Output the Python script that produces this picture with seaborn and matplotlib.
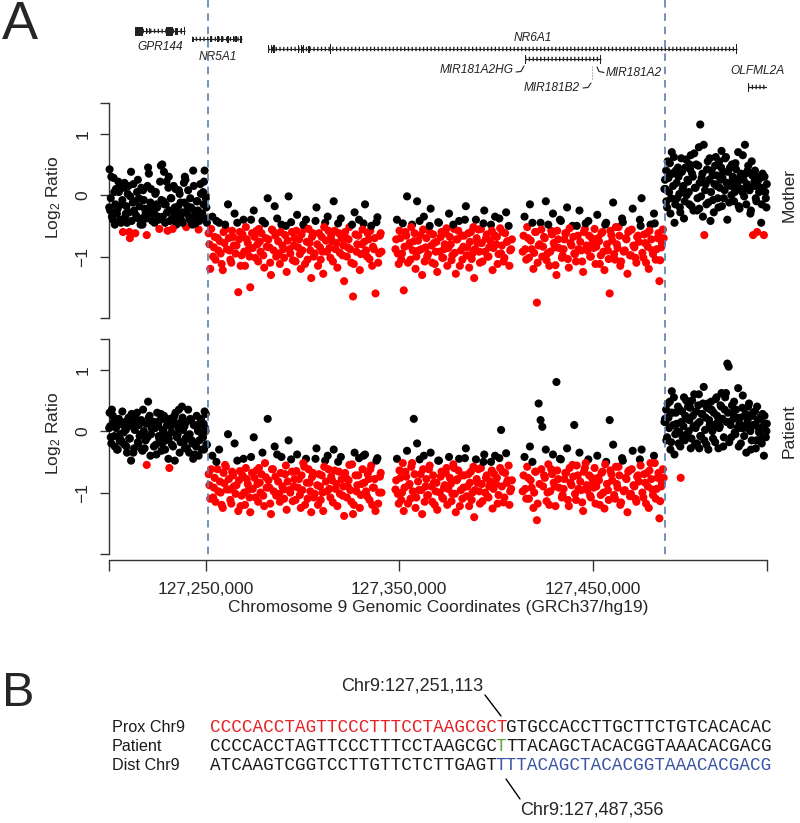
import matplotlib
matplotlib.use("Agg")
import matplotlib.pyplot as plt
import matplotlib.transforms as mtrans
from matplotlib.lines import Line2D
from matplotlib.patches import Rectangle
import seaborn as sns
import pandas as pd

# ---------------- data ----------------
WINDOW_START_BP = 127200000          # left end of the plotted window
WINDOW_END_KB = 340                  # window width in kb

# probe positions (kb from window start), shared by both arrays
LEFT_POS = [0.3, 0.9, 1.5, 2.4, 3.0, 3.6, 4.5, 5.1, 5.8, 6.6,
            7.2, 8.0, 8.7, 9.3, 10.1, 10.8, 11.4, 12.3, 13.0, 13.6,
            14.5, 15.2, 15.8, 16.7, 17.3, 18.0, 18.9, 19.5, 20.2, 21.0,
            21.7, 22.3, 23.2, 23.9, 24.5, 25.4, 26.0, 26.8, 27.5, 28.1,
            29.0, 29.7, 30.3, 31.2, 31.9, 32.5, 33.4, 34.0, 34.8, 35.5,
            36.1, 37.0, 37.7, 38.3, 39.2, 39.9, 40.5, 41.4, 42.0, 42.8,
            43.5, 44.1, 45.0, 45.7, 46.3, 47.2, 47.9, 48.6, 49.4, 50.3,
            0.6, 5.5, 11.0, 17.0, 22.8, 28.6, 33.8, 39.5, 44.7, 49.9]
LEFT2_POS = [0.1, 1.2, 2.0, 2.7, 3.3, 4.1, 4.8, 6.2, 6.9, 7.6,
             8.4, 9.0, 9.7, 10.4, 11.7, 12.6, 13.3, 14.0, 14.9, 15.5,
             16.3, 17.6, 18.4, 19.2, 19.9, 20.6, 21.4, 22.0, 23.5, 24.2,
             24.9, 25.7, 26.4, 27.1, 27.8, 28.4, 29.3, 30.0, 30.7, 31.5,
             32.2, 32.9, 33.1, 34.4, 35.1, 35.8, 36.5, 37.3, 38.0, 38.7,
             39.0, 40.2, 40.9, 41.7, 42.4, 43.1, 43.8, 44.4, 45.3, 46.0,
             46.7, 47.5, 48.2, 48.9, 49.1, 49.7, 50.0, 50.6, 10.5, 30.9]
DEL1_POS = [51.5, 52.3, 53.4, 54.2, 55.0, 56.1, 56.9, 57.7, 58.8, 59.6,
            60.4, 61.5, 62.3, 63.2, 64.1, 64.9, 65.9, 66.8, 67.6, 68.5,
            69.5, 70.3, 71.2, 72.2, 73.0, 73.9, 74.8, 75.7, 76.7, 77.5,
            78.3, 79.3, 80.2, 81.0, 82.0, 82.9, 83.7, 84.7, 85.6, 86.4,
            87.4, 88.3, 89.1, 90.1, 91.0, 91.8, 92.8, 93.7, 94.5, 95.5,
            96.4, 97.2, 98.2, 99.1, 99.9, 100.9, 101.8, 102.6, 103.6, 104.5,
            105.3, 106.3, 107.2, 108.0, 109.0, 109.9, 110.7, 111.7, 112.6, 113.4,
            114.4, 115.3, 116.1, 117.1, 118.0, 118.8, 119.8, 120.7, 121.5, 122.5,
            123.4, 124.2, 125.2, 126.1, 126.9, 127.9, 128.8, 129.6, 130.6, 131.5,
            132.3, 133.3, 134.2, 135.0, 136.0, 136.9, 137.7, 138.7, 139.6, 140.4]
DEL1B_POS = [51.9, 52.8, 53.8, 54.6, 55.5, 56.5, 57.3, 58.2, 59.2, 60.0,
             60.9, 61.9, 62.7, 63.6, 64.5, 65.4, 66.3, 67.2, 68.0, 69.0,
             69.9, 70.7, 71.7, 72.6, 73.4, 74.3, 75.2, 76.2, 77.1, 77.9,
             78.8, 79.7, 80.6, 81.5, 82.4, 83.3, 84.2, 85.1, 86.0, 86.9,
             87.8, 88.7, 89.6, 90.5, 91.4, 92.3, 93.2, 94.1, 95.0, 95.9,
             96.8, 97.7, 98.6, 99.5, 100.4, 101.3, 102.2, 103.1, 104.0, 104.9,
             105.8, 106.7, 107.6, 108.5, 109.4, 110.3, 111.2, 112.1, 113.0, 113.9,
             114.8, 115.7, 116.6, 117.5, 118.4, 119.3, 120.2, 121.1, 122.0, 122.9,
             123.8, 124.7, 125.6, 126.5, 127.4, 128.3, 129.2, 130.1, 131.0, 131.9,
             132.8, 133.7, 134.6, 135.5, 136.4, 137.3, 138.2, 139.1, 140.0, 140.8]
DEL2_POS = [148.0, 148.8, 149.7, 150.6, 151.4, 152.3, 153.2, 154.0, 154.9, 155.8,
            156.6, 157.5, 158.4, 159.2, 160.1, 161.0, 161.8, 162.7, 163.6, 164.4,
            165.3, 166.2, 167.0, 167.9, 168.8, 169.6, 170.5, 171.4, 172.2, 173.1,
            174.0, 174.8, 175.7, 176.6, 177.4, 178.3, 179.2, 180.0, 180.9, 181.8,
            182.6, 183.5, 184.4, 185.2, 186.1, 187.0, 187.8, 188.7, 189.6, 190.4,
            191.3, 192.2, 193.0, 193.9, 194.8, 195.6, 196.5, 197.4, 198.2, 199.1,
            200.0, 200.8, 201.7, 202.6, 203.4, 204.3, 205.2, 206.0, 206.9, 207.8]
DEL2B_POS = [148.4, 149.2, 150.1, 151.0, 151.8, 152.7, 153.6, 154.5, 155.3, 156.2,
             157.0, 157.9, 158.8, 159.7, 160.5, 161.4, 162.3, 163.1, 164.0, 164.9,
             165.7, 166.6, 167.5, 168.3, 169.2, 170.1, 170.9, 171.8, 172.7, 173.5,
             174.4, 175.3, 176.1, 177.0, 177.9, 178.7, 179.6, 180.5, 181.3, 182.2,
             183.1, 183.9, 184.8, 185.7, 186.5, 187.4, 188.3, 189.1, 190.0, 190.9,
             191.7, 192.6, 193.5, 194.3, 195.2, 196.1, 196.9, 197.8, 198.7, 199.5,
             200.4, 201.3, 202.1, 203.0, 203.9, 204.7, 205.6, 206.5, 207.3, 208.2]
DEL3_POS = [213.8, 214.7, 215.6, 216.5, 217.5, 218.4, 219.3, 220.2, 221.1, 222.0,
            223.0, 223.9, 224.8, 225.7, 226.6, 227.5, 228.5, 229.4, 230.3, 231.2,
            232.1, 233.0, 234.0, 234.9, 235.8, 236.7, 237.6, 238.5, 239.5, 240.4,
            241.3, 242.2, 243.1, 244.0, 245.0, 245.9, 246.8, 247.7, 248.6, 249.5,
            250.5, 251.4, 252.3, 253.2, 254.1, 255.0, 256.0, 256.9, 257.8, 258.7,
            259.6, 260.5, 261.5, 262.4, 263.3, 264.2, 265.1, 266.0, 267.0, 267.9,
            268.8, 269.7, 270.6, 271.5, 272.5, 273.4, 274.3, 275.2, 276.1, 277.0,
            278.0, 278.9, 279.8, 280.7, 281.6, 282.5, 283.5, 284.4, 285.3, 286.2]
DEL3B_POS = [214.2, 215.1, 216.1, 217.0, 217.9, 218.8, 219.7, 220.6, 221.5, 222.5,
             223.4, 224.3, 225.2, 226.1, 227.0, 228.0, 228.9, 229.8, 230.7, 231.6,
             232.5, 233.5, 234.4, 235.3, 236.2, 237.1, 238.0, 239.0, 239.9, 240.8,
             241.7, 242.6, 243.5, 244.5, 245.4, 246.3, 247.2, 248.1, 249.0, 250.0,
             250.9, 251.8, 252.7, 253.6, 254.5, 255.5, 256.4, 257.3, 258.2, 259.1,
             260.0, 261.0, 261.9, 262.8, 263.7, 264.6, 265.5, 266.5, 267.4, 268.3,
             269.2, 270.1, 271.0, 272.0, 272.9, 273.8, 274.7, 275.6, 276.5, 277.5,
             278.4, 279.3, 280.2, 281.1, 282.0, 283.0, 283.9, 284.8, 285.7, 286.6]
RIGHT_POS = [287.3, 288.0, 288.7, 289.4, 290.1, 290.8, 291.5, 292.2, 292.9, 293.6,
             294.3, 295.0, 295.7, 296.4, 297.1, 297.8, 298.5, 299.2, 299.9, 300.6,
             301.3, 302.0, 302.7, 303.4, 304.1, 304.8, 305.5, 306.2, 306.9, 307.6,
             308.3, 309.0, 309.7, 310.4, 311.1, 311.8, 312.5, 313.2, 313.9, 314.6,
             315.3, 316.0, 316.7, 317.4, 318.1, 318.8, 319.5, 320.2, 320.9, 321.6,
             322.3, 323.0, 323.7, 324.4, 325.1, 325.8, 326.5, 327.2, 327.9, 328.6,
             329.3, 330.0, 330.7, 331.4, 332.1, 332.8, 333.5, 334.2, 334.9, 335.6,
             336.3, 337.0, 337.7, 338.4, 339.1, 339.7, 287.6, 295.4, 310.8, 324.8]
RIGHT2_POS = [287.0, 287.9, 288.4, 289.1, 289.8, 290.5, 291.2, 291.9, 292.6, 293.3,
              294.0, 294.7, 295.2, 296.1, 296.8, 297.5, 298.2, 298.9, 299.6, 300.3,
              301.0, 301.7, 302.4, 303.1, 303.8, 304.5, 305.2, 305.9, 306.6, 307.3,
              308.0, 308.7, 309.4, 310.1, 311.4, 312.1, 312.8, 313.5, 314.2, 314.9,
              315.6, 316.3, 317.0, 317.7, 318.4, 319.1, 319.8, 320.5, 321.2, 321.9,
              322.6, 323.3, 324.0, 325.4, 326.1, 326.8, 327.5, 328.2, 328.9, 329.6,
              330.3, 331.0, 331.7, 332.4, 333.1, 333.8, 334.5, 335.2, 335.9, 336.6,
              337.3, 338.0, 338.7, 339.4, 339.9, 290.3, 300.0, 305.0, 316.5, 333.3]

# log2 ratios, Mother
LEFT_M = [0.42, -0.05, -0.35, 0.28, -0.48, 0.10, -0.22, 0.05, -0.40, -0.15,
          -0.60, 0.20, -0.30, -0.45, 0.15, -0.70, 0.38, -0.12, -0.25, -0.62,
          0.05, -0.38, -0.18, 0.12, -0.48, -0.08, -0.30, -0.65, 0.45, -0.20,
          0.10, -0.42, -0.28, 0.02, -0.15, -0.35, -0.55, 0.48, 0.50, -0.10,
          -0.45, 0.22, -0.58, -0.25, -0.05, -0.38, 0.15, -0.20, -0.48, -0.30,
          0.08, -0.12, -0.42, -0.28, 0.30, -0.52, -0.18, -0.35, -0.05, -0.45,
          0.40, -0.25, -0.40, -0.10, -0.56, 0.18, -0.32, 0.05, 0.40, -0.20,
          -0.25, 0.12, -0.02, -0.38, -0.30, -0.15, -0.28, 0.25, -0.46, 0.00]
LEFT2_M = [-0.20, 0.30, -0.40, 0.05, -0.15, -0.30, 0.22, -0.45, -0.08, 0.12,
           -0.35, -0.18, 0.02, -0.28, -0.42, 0.18, -0.10, -0.33, 0.25, -0.05,
           -0.48, 0.08, -0.22, -0.38, 0.15, 0.35, -0.12, -0.30, -0.45, 0.05,
           -0.20, -0.40, 0.22, -0.08, -0.35, 0.38, -0.15, -0.28, 0.12, -0.42,
           -0.05, -0.55, -0.25, 0.10, -0.38, -0.18, 0.02, -0.32, -0.45, 0.20,
           -0.12, -0.28, 0.08, -0.40, -0.20, -0.48, 0.15, -0.35, -0.10, -0.25,
           -0.42, 0.02, -0.30, -0.15, 0.22, -0.38, -0.05, -0.45, -0.60, 0.30]
DEL1_M = [-0.62, -1.20, -0.35, -0.85, -1.05, -0.70, -0.45, -0.95, -1.22, -0.78,
          -0.55, -0.15, -0.90, -1.10, -0.68, -0.30, -0.82, -1.58, -0.60, -0.98,
          -0.40, -1.15, -0.72, -0.88, -1.50, -0.62, -0.25, -1.02, -0.80, -0.55,
          -0.92, -0.42, -1.18, -0.70, -0.05, -0.85, -1.30, -0.58, -0.18, -1.00,
          -0.75, -1.12, -0.48, -0.88, -0.65, -1.25, -0.02, -0.95, -0.60, -0.82,
          -1.08, -0.32, -0.72, -1.20, -0.90, -0.55, -0.40, -1.05, -0.78, -1.35,
          -0.62, -0.95, -0.20, -1.15, -0.85, -0.68, -1.28, -0.45, -0.92, -0.58,
          -1.02, -0.75, -0.10, -0.88, -1.18, -0.62, -0.38, -0.98, -1.40, -0.70,
          -0.85, -0.52, -1.10, -1.65, -0.28, -0.92, -0.66, -1.22, -0.80, -0.46,
          -0.15, -1.00, -0.72, -0.58, -1.15, -0.88, -1.60, -0.36, -0.95, -0.62]
DEL1B_M = [-0.80, -0.55, -1.00, -0.68, -0.42, -0.90, -0.75, -1.12, -0.60, -0.48,
           -0.88, -0.70, -1.05, -0.58, -0.82, -0.95, -0.45, -0.72, -1.15, -0.64,
           -0.92, -0.52, -0.78, -1.00, -0.40, -0.86, -0.68, -0.58, -1.08, -0.76,
           -0.62, -0.98, -0.46, -0.84, -0.72, -1.10, -0.56, -0.90, -0.66, -0.38,
           -0.95, -0.60, -0.82, -1.02, -0.50, -0.74, -0.88, -0.44, -1.06, -0.70,
           -0.58, -0.85, -0.96, -0.64, -0.48, -1.12, -0.76, -0.55, -0.90, -0.68,
           -1.00, -0.42, -0.80, -0.62, -1.05, -0.92, -0.52, -0.74, -0.35, -0.86,
           -0.66, -1.08, -0.58, -0.78, -0.46, -0.94, -0.70, -0.82, -0.60, -1.00,
           -0.72, -0.88, -0.48, -1.12, -0.64, -0.80, -0.40, -0.96, -0.56, -0.76,
           -0.90, -0.62, -1.04, -0.50, -0.84, -0.70, -0.44, -1.10, -0.66, -0.92]
DEL2_M = [-0.88, -0.40, -1.12, -0.70, -0.95, -1.55, -0.60, -0.02, -0.82, -1.05,
          -0.48, -0.75, -1.20, -0.10, -0.90, -0.65, -1.30, -0.35, -0.85, -1.00,
          -0.58, -0.22, -1.10, -0.78, -0.92, -1.25, -0.45, -0.68, -1.02, -0.88,
          -0.62, -1.15, -0.30, -0.80, -0.98, -0.55, -1.28, -0.72, -0.42, -0.90,
          -1.05, -0.66, -0.18, -0.85, -1.18, -0.60, -0.95, -1.35, -0.40, -0.78,
          -0.92, -0.55, -1.08, -0.25, -0.70, -1.00, -0.85, -0.48, -1.22, -0.65,
          -0.80, -1.12, -0.38, -0.95, -0.60, -1.02, -0.28, -0.75, -1.15, -0.88]
DEL2B_M = [-0.72, -0.95, -0.58, -1.05, -0.46, -0.84, -0.66, -1.10, -0.78, -0.52,
           -0.90, -0.62, -1.00, -0.74, -0.42, -0.88, -0.56, -1.08, -0.70, -0.96,
           -0.50, -0.82, -0.64, -1.12, -0.76, -0.44, -0.92, -0.60, -1.02, -0.80,
           -0.54, -0.86, -0.68, -1.06, -0.48, -0.94, -0.72, -0.58, -1.15, -0.66,
           -0.84, -0.40, -0.98, -0.62, -0.76, -1.04, -0.52, -0.88, -0.70, -0.56,
           -1.10, -0.78, -0.46, -0.92, -0.64, -1.00, -0.74, -0.58, -0.86, -0.35,
           -0.68, -0.96, -0.54, -0.82, -1.08, -0.62, -0.76, -0.50, -0.90, -0.72]
DEL3_M = [-0.92, -0.35, -1.05, -0.70, -0.15, -0.88, -1.20, -0.60, -1.75, -0.82,
          -0.45, -1.00, -0.68, -0.10, -0.95, -1.15, -0.58, -0.30, -0.85, -1.30,
          -0.72, -0.40, -1.02, -0.88, -0.62, -0.20, -1.18, -0.78, -0.50, -0.95,
          -1.08, -0.66, -0.25, -0.90, -1.25, -0.55, -0.82, -0.42, -1.00, -0.70,
          -0.86, -1.12, -0.32, -0.75, -0.98, -0.60, -1.22, -0.45, -0.90, -1.60,
          -0.65, -0.12, -1.05, -0.80, -0.52, -1.15, -0.38, -0.92, -0.70, -1.28,
          -0.58, -0.98, -0.22, -0.85, -1.10, -0.66, -0.40, -0.05, -1.02, -0.78,
          -0.62, -1.20, -0.48, -0.90, -0.30, -1.05, -0.70, -1.40, -0.85, -0.56]
DEL3B_M = [-0.66, -0.88, -0.52, -1.02, -0.74, -0.45, -0.94, -0.60, -1.10, -0.80,
           -0.56, -0.84, -0.70, -1.06, -0.48, -0.92, -0.64, -0.78, -1.14, -0.58,
           -0.86, -0.42, -0.98, -0.72, -0.62, -1.04, -0.54, -0.82, -0.68, -0.96,
           -0.50, -0.88, -0.76, -1.08, -0.60, -0.46, -0.90, -0.66, -1.00, -0.78,
           -0.55, -0.84, -0.70, -1.12, -0.62, -0.92, -0.48, -0.80, -1.04, -0.58,
           -0.74, -0.96, -0.52, -0.86, -0.66, -1.08, -0.44, -0.90, -0.72, -0.60,
           -0.98, -0.56, -0.82, -1.02, -0.68, -0.76, -0.50, -0.94, -0.64, -1.10,
           -0.84, -0.58, -0.72, -0.96, -0.46, -0.88, -0.62, -1.06, -0.78, -0.70]
RIGHT_M = [0.25, -0.10, 0.55, 0.05, -0.30, 0.70, 0.15, -0.45, 0.40, -0.05,
           0.30, -0.20, 0.60, 0.10, -0.38, 0.45, 0.00, 0.22, -0.15, 0.65,
           0.35, -0.25, 0.12, 0.50, -0.05, 0.78, 1.15, 0.28, -0.35, -0.65,
           0.18, 0.42, -0.12, 0.60, 0.05, 0.32, -0.28, 0.48, 0.15, -0.05,
           0.55, 0.25, -0.18, 0.38, 0.08, 0.62, -0.40, 0.20, 0.45, 0.00,
           0.30, -0.10, 0.52, 0.15, 0.70, -0.22, 0.35, 0.05, 0.25, 0.82,
           -0.15, 0.40, 0.10, -0.30, 0.55, -0.65, 0.22, -0.05, -0.60, 0.30,
           0.12, -0.45, 0.35, -0.65, 0.05, -0.20, 0.10, 0.38, -0.42, 0.20]
RIGHT2_M = [0.10, 0.40, -0.20, 0.28, 0.52, -0.05, 0.35, 0.62, -0.15, 0.20,
            0.45, 0.02, -0.28, 0.38, 0.15, -0.10, 0.58, 0.25, 0.05, 0.42,
            -0.18, 0.30, 0.68, 0.12, -0.25, 0.48, 0.20, -0.02, 0.35, 0.82,
            0.08, -0.15, 0.55, 0.25, 0.40, -0.08, 0.18, 0.62, 0.32, -0.20,
            0.12, 0.45, 0.28, -0.05, 0.60, 0.20, 0.38, -0.12, 0.15, 0.50,
            0.25, 0.05, 0.42, -0.18, 0.30, 0.10, 0.65, -0.02, 0.35, 0.18,
            0.48, 0.08, -0.25, 0.32, 0.15, 0.40, -0.10, 0.22, 0.05, 0.28,
            -0.15, 0.12, 0.30, -0.05, 0.18, 0.35, 0.50, -0.22, 0.72, 0.15]

# log2 ratios, Patient
LEFT_P = [0.30, -0.10, 0.35, 0.15, -0.25, 0.05, -0.30, 0.20, -0.05, -0.18,
          0.10, -0.22, 0.02, -0.35, 0.22, -0.12, -0.48, 0.08, -0.28, 0.12,
          0.30, -0.20, -0.08, 0.18, -0.32, 0.00, -0.15, -0.55, 0.48, 0.25,
          -0.05, 0.15, -0.25, 0.05, -0.38, 0.10, -0.12, 0.28, -0.20, 0.02,
          -0.30, 0.18, -0.10, -0.60, 0.08, -0.22, 0.22, -0.48, 0.12, -0.05,
          0.35, -0.18, 0.40, 0.02, -0.28, 0.15, -0.08, -0.35, 0.20, -0.15,
          -0.45, 0.10, -0.25, 0.05, -0.40, 0.15, -0.30, -0.10, 0.32, -0.22,
          0.08, -0.15, 0.20, -0.30, 0.12, -0.05, 0.25, -0.12, -0.20, 0.00]
LEFT2_P = [0.05, -0.20, 0.25, -0.08, 0.18, -0.30, 0.12, -0.15, 0.32, -0.02,
           0.15, -0.25, 0.08, -0.12, 0.28, -0.35, 0.02, 0.20, -0.18, 0.10,
           -0.05, 0.35, -0.28, 0.12, -0.10, 0.22, -0.40, 0.05, 0.15, -0.22,
           0.30, -0.08, 0.18, -0.32, 0.02, 0.25, -0.15, 0.10, -0.45, 0.20,
           -0.02, 0.12, -0.25, 0.30, -0.10, 0.05, -0.35, 0.15, 0.22, -0.18,
           0.08, -0.28, 0.35, -0.05, 0.18, -0.20, 0.10, -0.38, 0.25, 0.00,
           -0.15, 0.20, -0.08, 0.12, -0.30, 0.05, 0.28, -0.22, 0.15, -0.12]
DEL1_P = [-0.70, -1.10, -0.40, -0.92, -1.15, -0.62, -0.30, -1.00, -1.25, -0.85,
          -0.58, -0.05, -0.95, -1.18, -0.72, -0.20, -0.88, -1.30, -0.65, -1.05,
          -0.45, -1.20, -0.78, -0.95, -1.32, -0.68, -0.10, -1.08, -0.86, -0.60,
          -1.00, -0.35, -1.22, -0.75, 0.20, -0.92, -1.35, -0.62, -0.25, -1.05,
          -0.82, -1.15, -0.42, -0.95, -0.70, -1.28, -0.15, -1.00, -0.66, -0.90,
          -1.12, -0.38, -0.78, -1.25, -0.96, -0.58, -0.45, -1.10, -0.84, -1.32,
          -0.68, -1.02, -0.28, -1.20, -0.90, -0.72, -1.30, -0.48, -0.98, -0.62,
          -1.08, -0.80, -0.30, -0.94, -1.22, -0.66, -0.42, -1.05, -1.38, -0.76,
          -0.90, -0.55, -1.15, -1.35, -0.35, -0.98, -0.72, -1.25, -0.86, -0.40,
          -0.38, -1.06, -0.78, -0.62, -1.20, -0.92, -1.30, -0.44, -1.00, -0.68]
DEL1B_P = [-0.88, -0.62, -1.08, -0.76, -0.50, -0.98, -0.82, -1.20, -0.68, -0.55,
           -0.95, -0.78, -1.12, -0.66, -0.90, -1.02, -0.48, -0.80, -1.22, -0.72,
           -1.00, -0.60, -0.86, -1.08, -0.42, -0.94, -0.76, -0.64, -1.15, -0.84,
           -0.70, -1.05, -0.52, -0.92, -0.80, -1.18, -0.62, -0.98, -0.74, -0.38,
           -1.02, -0.68, -0.90, -1.10, -0.56, -0.82, -0.96, -0.46, -1.14, -0.78,
           -0.65, -0.92, -1.04, -0.72, -0.52, -1.20, -0.84, -0.62, -0.98, -0.75,
           -1.08, -0.45, -0.88, -0.70, -1.12, -1.00, -0.58, -0.82, -0.40, -0.94,
           -0.74, -1.16, -0.64, -0.86, -0.50, -1.02, -0.78, -0.90, -0.68, -1.08,
           -0.80, -0.96, -0.54, -1.20, -0.72, -0.88, -0.44, -1.04, -0.62, -0.84,
           -0.98, -0.70, -1.12, -0.56, -0.92, -0.78, -0.48, -1.18, -0.74, -1.00]
DEL2_P = [-0.95, -0.45, -1.18, -0.76, -1.00, -1.30, -0.66, -0.32, -0.88, -1.10,
          -0.52, 0.20, -1.25, -0.20, -0.96, -0.70, -1.35, -0.40, -0.90, -1.05,
          -0.62, -0.35, -1.15, -0.84, -0.98, -1.28, -0.48, -0.74, -1.08, -0.92,
          -0.68, -1.20, -0.42, -0.86, -1.02, -0.60, -1.32, -0.78, -0.45, -0.96,
          -1.10, -0.72, -0.28, -0.90, -1.22, -0.66, -1.00, -1.40, -0.46, -0.84,
          -0.98, -0.60, -1.14, -0.38, -0.76, -1.06, -0.90, -0.50, -1.26, -0.70,
          -0.86, -1.18, -0.44, 0.02, -0.66, -1.08, -0.36, -0.80, -1.20, -0.94]
DEL2B_P = [-0.80, -1.02, -0.64, -1.12, -0.52, -0.92, -0.74, -1.18, -0.86, -0.58,
           -0.98, -0.70, -1.08, -0.82, -0.46, -0.96, -0.62, -1.15, -0.78, -1.04,
           -0.56, -0.90, -0.72, -1.20, -0.84, -0.48, -1.00, -0.66, -1.10, -0.88,
           -0.60, -0.94, -0.76, -1.14, -0.54, -1.02, -0.80, -0.64, -1.22, -0.72,
           -0.92, -0.44, -1.06, -0.70, -0.84, -1.12, -0.58, -0.96, -0.78, -0.62,
           -1.18, -0.86, -0.50, -1.00, -0.72, -1.08, -0.82, -0.64, -0.94, -0.40,
           -0.76, -1.04, -0.60, -0.90, -1.16, -0.68, -0.84, -0.56, -0.98, -0.80]
DEL3_P = [-0.98, -0.42, -1.10, -0.76, -0.25, -0.92, -1.25, -0.66, -1.45, 0.45,
          0.18, 0.07, -0.72, -0.30, -1.00, -1.20, -0.62, -0.38, -0.90, 0.80,
          -0.78, -0.45, -1.08, -0.94, -0.68, -0.28, -1.22, -0.84, -0.55, 0.10,
          -1.12, -0.72, -0.35, -0.96, -1.30, -0.60, -0.88, -0.46, -1.05, -0.76,
          -0.92, -1.18, -0.40, -0.80, -1.04, -0.66, -1.26, -0.50, -0.96, 0.18,
          -0.70, -0.22, -1.10, -0.86, -0.58, -1.20, -0.44, -0.98, -0.76, -1.32,
          -0.64, -1.02, -0.32, -0.90, -1.15, -0.72, -0.46, -0.30, -1.08, -0.84,
          -0.68, -1.25, -0.52, -0.95, -0.40, -1.10, -0.76, -1.42, -0.90, -0.62]
DEL3B_P = [-0.72, -0.94, -0.58, -1.10, -0.80, -0.50, -1.00, -0.66, -1.18, -0.86,
           -0.62, -0.90, -0.76, -1.14, -0.54, -0.98, -0.70, -0.84, -1.22, -0.64,
           -0.92, -0.46, -1.04, -0.78, -0.68, -1.12, -0.60, -0.88, -0.74, -1.02,
           -0.56, -0.94, -0.82, -1.16, -0.66, -0.52, -0.96, -0.72, -1.08, -0.84,
           -0.60, -0.90, -0.76, -1.20, -0.68, -1.00, -0.54, -0.86, -1.12, -0.64,
           -0.80, -1.04, -0.58, -0.92, -0.72, -1.16, -0.48, -0.96, -0.78, -0.66,
           -1.06, -0.62, -0.88, -1.10, -0.74, -0.82, -0.56, -1.00, -0.70, -1.18,
           -0.90, -0.64, -0.78, -1.04, -0.52, -0.94, -0.68, -1.14, -0.84, -0.76]
RIGHT_P = [0.20, -0.15, 0.45, 0.05, -0.30, 0.65, 0.10, -0.38, 0.30, 0.00,
           -0.20, 0.35, 0.15, -0.10, 0.55, 0.25, -0.05, 0.40, 0.18, -0.28,
           0.50, 0.08, -0.22, 0.32, 0.12, 0.60, -0.08, 0.28, 0.45, -0.15,
           0.22, 0.38, -0.30, 0.10, 0.48, 0.00, 0.30, -0.18, 0.55, 0.15,
           0.05, 0.42, 0.20, -0.25, 0.35, 0.62, 1.10, 1.05, 0.15, -0.10,
           0.30, 0.48, -0.05, 0.22, 0.70, 0.12, -0.20, 0.38, 0.05, 0.25,
           -0.35, 0.18, 0.45, 0.00, -0.15, 0.30, 0.10, -0.28, 0.40, 0.05,
           0.20, -0.10, 0.28, -0.40, 0.12, 0.00, 0.15, -0.76, 0.35, 0.05]
RIGHT2_P = [0.15, 0.35, -0.10, 0.22, 0.48, -0.18, 0.30, 0.55, -0.05, 0.12,
            0.40, -0.02, -0.25, 0.32, 0.08, -0.15, 0.50, 0.20, 0.00, 0.38,
            -0.12, 0.25, 0.60, 0.05, -0.20, 0.42, 0.15, -0.08, 0.28, 0.72,
            0.02, -0.22, 0.45, 0.18, 0.35, -0.12, 0.10, 0.52, 0.25, -0.28,
            0.08, 0.40, 0.20, -0.10, 0.55, 0.15, 0.30, -0.18, 0.10, 0.42,
            0.20, -0.02, 0.35, -0.25, 0.22, 0.05, 0.58, -0.08, 0.28, 0.12,
            0.40, 0.02, -0.30, 0.25, 0.10, 0.32, -0.15, 0.18, -0.02, 0.22,
            -0.20, 0.08, 0.25, -0.10, 0.12, 0.30, 0.45, -0.28, 0.62, 0.10]

LOSS_THRESHOLD = -0.5
BREAKPOINTS_BP = [127251113, 127487356]
XTICKS_KB = [0, 50, 150, 250, 340]
XTICK_LABELS = ["", "127,250,000", "127,350,000", "127,450,000", ""]
YTICKS = [-2, -1, 0, 1, 1.5]
YTICK_LABELS = ["", "\u22121", "0", "1", ""]

# genes (kb from window start)
GENE_NAMES = ["GPR144", "NR5A1", "NR6A1", "MIR181A2HG", "OLFML2A"]
GENE_START_KB = [13.4, 42.9, 82.2, 215.0, 330.2]
GENE_END_KB = [39.3, 68.7, 324.5, 254.3, 340.4]
GENE_EXONS_KB = {
    "GPR144": [(13.4, 17.6, 9), (19.1, 19.7, 6), (20.7, 21.3, 6), (29.5, 33.1, 9),
               (34.0, 35.7, 7), (37.2, 37.8, 6), (38.8, 39.3, 8)],
    "NR5A1": [(42.9, 43.9, 5), (52.3, 53.4, 6), (55.8, 56.6, 6), (57.9, 58.7, 6),
              (60.9, 61.8, 7), (64.0, 64.6, 6), (65.2, 65.9, 6), (67.9, 68.7, 7)],
    "NR6A1": [(82.2, 82.8, 8), (83.6, 84.2, 8), (84.9, 85.8, 8), (97.7, 98.3, 8),
              (99.0, 99.6, 8), (100.1, 100.6, 8), (103.0, 103.8, 7), (114.0, 114.5, 10),
              (324.0, 324.5, 10)],
    "MIR181A2HG": [(215.0, 215.4, 9), (253.9, 254.3, 9)],
    "OLFML2A": [(330.2, 330.7, 9), (339.8, 340.4, 9)],
}

# panel B sequences
SEQ_ROW_LABELS = ["Prox Chr9", "Patient", "Dist Chr9"]
SEQ_PROX = [("CCCCACCTAGTTCCCTTTCCTAAGCGCT", "red"), ("GTGCCACCTTGCTTCTGTCACACAC", "black")]
SEQ_PATIENT = [("CCCCACCTAGTTCCCTTTCCTAAGCGC", "black"), ("T", "green"),
               ("TTACAGCTACACGGTAAACACGACG", "black")]
SEQ_DIST = [("ATCAAGTCGGTCCTTGTTCTCTTGAGT", "black"), ("TTTACAGCTACACGGTAAACACGACG", "blue")]
JUNCTION_LABELS = ["Chr9:127,251,113", "Chr9:127,487,356"]

# ---------------- styling ----------------
sns.set_style("ticks")
plt.rcParams["font.family"] = ["Liberation Sans", "DejaVu Sans"]
plt.rcParams["mathtext.fontset"] = "custom"
plt.rcParams["mathtext.rm"] = "Liberation Sans"
plt.rcParams["mathtext.it"] = "Liberation Sans:italic"

W, H = 800, 823
fig = plt.figure(figsize=(W / 100, H / 100), dpi=100)
fig.patch.set_facecolor("white")


def frac(x0, y0, x1, y1):
    return [x0 / W, 1 - y1 / H, (x1 - x0) / W, (y1 - y0) / H]


AX_L, AX_R = 109, 767
ax_gene = fig.add_axes(frac(AX_L, 0, AX_R, 100))
ax_m = fig.add_axes(frac(AX_L, 103, AX_R, 318))
ax_p = fig.add_axes(frac(AX_L, 339, AX_R, 554))
ov = fig.add_axes([0, 0, 1, 1])
ov.set_xlim(0, W)
ov.set_ylim(H, 0)
ov.axis("off")
ov.patch.set_visible(False)

# ---------------- data frame ----------------
pos = (LEFT_POS + LEFT2_POS + DEL1_POS + DEL1B_POS + DEL2_POS + DEL2B_POS
       + DEL3_POS + DEL3B_POS + RIGHT_POS + RIGHT2_POS)
mother = (LEFT_M + LEFT2_M + DEL1_M + DEL1B_M + DEL2_M + DEL2B_M
          + DEL3_M + DEL3B_M + RIGHT_M + RIGHT2_M)
patient = (LEFT_P + LEFT2_P + DEL1_P + DEL1B_P + DEL2_P + DEL2B_P
           + DEL3_P + DEL3B_P + RIGHT_P + RIGHT2_P)
wide = pd.DataFrame({"pos": pos, "Mother": mother, "Patient": patient})
df = wide.melt(id_vars="pos", var_name="sample", value_name="log2")
df["call"] = ["loss" if v < LOSS_THRESHOLD else "normal" for v in df["log2"]]

SPINE_C = "#333333"
for ax, s in [(ax_m, "Mother"), (ax_p, "Patient")]:
    sub = df[df["sample"] == s]
    sns.scatterplot(data=sub, x="pos", y="log2", hue="call",
                    palette={"normal": "black", "loss": "#ff0000"},
                    hue_order=["normal", "loss"], s=34, linewidth=0,
                    legend=False, ax=ax, clip_on=False, zorder=3)
    ax.set_xlim(0, WINDOW_END_KB)
    ax.set_ylim(-2, 1.5)
    ax.patch.set_visible(False)
    for sp in ["top", "right"]:
        ax.spines[sp].set_visible(False)
    ax.spines["left"].set_bounds(-2, 1.5)
    ax.spines["left"].set_color(SPINE_C)
    ax.spines["left"].set_linewidth(1.0)
    ax.set_yticks(YTICKS)
    ax.set_yticklabels(YTICK_LABELS, rotation=90, va="center", fontsize=12.5)
    ax.tick_params(axis="y", length=6.5, width=1.0, color=SPINE_C, pad=7)
    ax.set_ylabel(r"Log$_2$ Ratio", fontsize=12.5)
    ax.yaxis.label.set_va("center")
    ax.yaxis.set_label_coords(-0.084, 0.56)
    ax.set_xlabel("")

ax_m.spines["bottom"].set_visible(False)
ax_m.set_xticks([])

ax_p.spines["bottom"].set_position(("outward", 4))
ax_p.spines["bottom"].set_bounds(0, WINDOW_END_KB)
ax_p.spines["bottom"].set_color(SPINE_C)
ax_p.spines["bottom"].set_linewidth(1.0)
ax_p.set_xticks(XTICKS_KB)
ax_p.set_xticklabels(XTICK_LABELS, fontsize=12.5)
ax_p.tick_params(axis="x", length=8, width=1.0, color=SPINE_C, pad=8)
ax_p.set_xlabel("Chromosome 9 Genomic Coordinates (GRCh37/hg19)", fontsize=12.5)
ax_p.xaxis.set_label_coords(0.5, -0.215)

# sample labels at the right
ov.text(789, 195, "Mother", rotation=90, ha="center", va="center", fontsize=12.5)
ov.text(789, 431, "Patient", rotation=90, ha="center", va="center", fontsize=12.5)

# breakpoint dashed lines spanning gene track and both panels
bt = mtrans.blended_transform_factory(ax_p.transData, ov.transData)
for bp in BREAKPOINTS_BP:
    xk = (bp - WINDOW_START_BP) / 1000
    ov.add_line(Line2D([xk, xk], [0, 556], transform=bt, color="#5a80b0",
                       lw=1.2, ls=(0, (4.5, 3.5)), zorder=5))

# ---------------- gene track ----------------
ax_gene.set_xlim(0, WINDOW_END_KB)
ax_gene.set_ylim(100, 0)
ax_gene.axis("off")
ax_gene.patch.set_visible(False)
GENE_ROW_Y = {"GPR144": 31, "NR5A1": 39, "NR6A1": 49, "MIR181A2HG": 59, "OLFML2A": 87}
GC = "#222222"
for name, g0, g1 in zip(GENE_NAMES, GENE_START_KB, GENE_END_KB):
    y = GENE_ROW_Y[name]
    ax_gene.plot([g0, g1], [y, y], color=GC, lw=0.8, solid_capstyle="butt")
    ax_gene.plot([g0, g1], [y, y], color=GC, lw=3.2, ls=(0, (0.3, 0.55)),
                 dash_capstyle="butt")
    for e0, e1, h in GENE_EXONS_KB[name]:
        ax_gene.add_patch(Rectangle((e0, y - h / 2), max(e1 - e0, 0.45), h,
                                    color=GC, lw=0))

lab_kw = dict(fontsize=8.6, style="italic", color="#222222", va="center")
ax_gene.text(26.4, 47, "GPR144", ha="center", **lab_kw)
ax_gene.text(56.3, 57, "NR5A1", ha="center", **lab_kw)
ax_gene.text(219.0, 38, "NR6A1", ha="center", **lab_kw)
ax_gene.text(335.0, 71, "OLFML2A", ha="center", **lab_kw)
ov.text(514, 70, "MIR181A2HG", ha="right", **lab_kw)
ov.text(606, 73, "MIR181A2", ha="left", **lab_kw)
ov.text(580, 88, "MIR181B2", ha="right", **lab_kw)
ov.plot([516, 521, 524], [72, 71.5, 66], color=GC, lw=0.8)
ov.plot([597, 599, 604], [67, 71.5, 72.5], color=GC, lw=0.8)
ov.plot([583, 588, 591], [88, 87.5, 83], color=GC, lw=0.8)
ov.plot([592, 592], [66, 80], color="#999999", lw=0.6, ls=(0, (2, 1.5)))

# panel letters
ov.text(2, 25, "A", fontsize=39, ha="left", va="center")
ov.text(2, 694, "B", fontsize=35, ha="left", va="center")

# ---------------- panel B ----------------
COLORS = {"red": "#e62126", "black": "#1a1a1a", "green": "#5fa33a", "blue": "#3b55a5"}
SEQ_FS = 12.7
CHAR_W = SEQ_FS / 72 * 100 * 0.6
SEQ_X0 = 210
ROW_Y = [727, 746.5, 766]
for label, segs, y in zip(SEQ_ROW_LABELS, [SEQ_PROX, SEQ_PATIENT, SEQ_DIST], ROW_Y):
    ov.text(112, y, label, fontsize=11.6, ha="left", va="center", color="#1a1a1a")
    n = 0
    for txt, c in segs:
        ov.text(SEQ_X0 + n * CHAR_W, y, txt, fontsize=SEQ_FS, family="Liberation Mono",
                ha="left", va="center", color=COLORS[c])
        n += len(txt)

ov.text(412, 686, JUNCTION_LABELS[0], fontsize=13, ha="center", va="center")
ov.plot([485, 501], [695, 716], color="black", lw=1.0)
ov.text(592, 810, JUNCTION_LABELS[1], fontsize=13, ha="center", va="center")
ov.plot([506, 520], [779, 799], color="black", lw=1.0)

fig.savefig("out.png", dpi=100, facecolor="white")
